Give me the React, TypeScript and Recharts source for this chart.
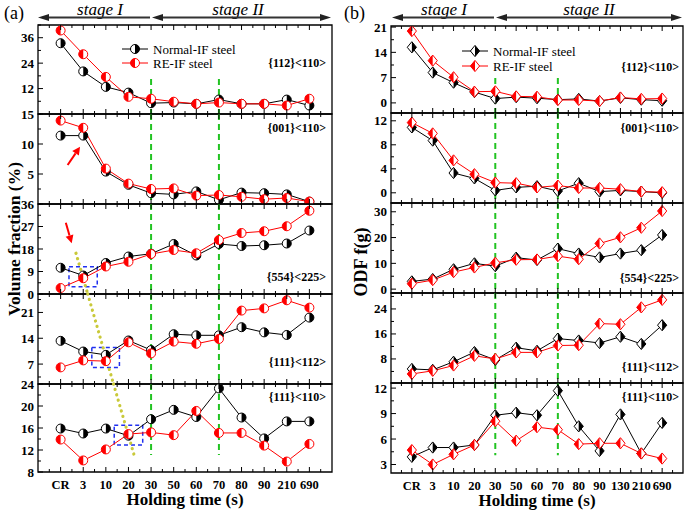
import React from "react";
import {
  LineChart,
  Line,
  XAxis,
  YAxis,
  ReferenceLine,
  ReferenceArea,
  Label,
} from "recharts";

const FONT = "'Liberation Serif', 'Times New Roman', serif";

// holding time categories
const catsA = ["CR", "3", "10", "20", "30", "50", "60", "70", "80", "90", "210", "690"];
const catsB = ["CR", "3", "10", "20", "30", "50", "60", "70", "80", "90", "130", "210", "690"];

// (a) volume fraction (%)
const a112N = [33.4, 20.1, 12.8, 10.1, 5.1, 5.4, 4.8, 6.8, 4.8, 4.8, 6.8, 4.0];
const a112R = [39.4, 28.2, 17.5, 8.1, 7.2, 5.8, 4.8, 5.4, 4.8, 4.8, 4.0, 7.2];
const a001N = [11.4, 11.4, 5.4, 3.2, 1.8, 1.6, 2.1, 0.7, 1.9, 1.8, 1.6, 0.4];
const a001R = [13.9, 12.7, 5.9, 3.4, 2.5, 2.6, 1.4, 1.5, 1.2, 0.8, 1.0, 0.4];
const a554N = [10.5, 7.4, 12.4, 15.0, 16.1, 20.0, 15.4, 20.0, 19.2, 19.5, 20.2, 25.4];
const a554R = [2.4, 6.3, 11.0, 12.9, 16.0, 17.6, 16.3, 21.6, 24.4, 25.1, 27.1, 33.3];
const a111_112N = [13.3, 10.4, 9.5, 13.4, 10.8, 15.1, 14.8, 14.8, 17.0, 15.6, 14.9, 19.6];
const a111_112R = [6.1, 8.0, 7.8, 12.9, 9.9, 13.1, 12.5, 13.8, 21.5, 22.1, 24.3, 22.3];
const a111_110N = [15.9, 15.0, 15.9, 14.6, 17.6, 19.3, 18.0, 23.2, 17.9, 14.1, 17.2, 17.2];
const a111_110R = [13.9, 10.1, 12.1, 14.9, 15.2, 14.7, 19.1, 15.1, 15.1, 12.8, 9.9, 13.1];

// (b) ODF f(g)
const b112N = [15.4, 8.4, 5.6, 3.0, 1.2, 1.6, 1.3, 0.9, 1.1, 0.5, 1.4, 0.9, 0.6];
const b112R = [19.9, 11.7, 7.1, 3.1, 3.2, 1.8, 1.7, 0.8, 0.8, 0.5, 1.5, 1.1, 1.2];
const b001N = [10.9, 8.7, 3.3, 2.4, 0.4, 0.9, 1.1, 0.3, 1.6, 0.2, 0.4, 0.2, 0.0];
const b001R = [11.7, 9.9, 5.4, 3.1, 1.7, 1.6, 0.9, 1.2, 0.8, 0.8, 0.6, 0.2, 0.1];
const b554N = [3.0, 3.9, 7.7, 10.0, 8.9, 12.2, 11.3, 15.7, 13.8, 12.3, 13.8, 15.1, 21.0];
const b554R = [2.1, 3.5, 6.6, 8.4, 10.2, 11.4, 11.5, 12.8, 11.6, 17.7, 20.1, 23.8, 30.3];
const b111_112N = [4.8, 4.5, 7.1, 10.2, 7.7, 11.6, 10.6, 14.5, 13.9, 13.1, 15.1, 12.8, 18.8];
const b111_112R = [3.2, 4.2, 5.9, 9.0, 8.0, 10.1, 10.1, 12.3, 12.4, 19.3, 19.1, 24.5, 26.9];
const b111_110N = [3.9, 5.0, 5.0, 5.3, 8.8, 9.1, 8.8, 11.7, 7.5, 4.6, 8.9, 4.3, 7.9];
const b111_110R = [4.7, 3.0, 4.2, 5.3, 8.1, 5.8, 7.4, 7.1, 5.4, 5.5, 5.5, 4.3, 3.7];

const GREEN = "#22c322";
const YELLOW = "#c9c93a";
const BLUE = "#2030f0";

type Sub = {
  name: string;
  n: number[];
  r: number[];
  domain: [number, number];
  labels: number[];
  step: number;
  top: number;
  bottom: number;
  nameY: number;
};

type Panel = {
  left: number;
  width: number;
  yw: number;
  right: number;
  cats: string[];
  shape: "circle" | "diamond";
  nameX: number;
};

const PANEL_A: Panel = { left: 0, width: 340, yw: 38, right: 8, cats: catsA, shape: "circle", nameX: 326 };
const PANEL_B: Panel = { left: 345, width: 340, yw: 46, right: 2, cats: catsB, shape: "diamond", nameX: 679 };

const subsA: Sub[] = [
  { name: "{112}<110>", n: a112N, r: a112R, domain: [0, 42], labels: [12, 24, 36], step: 6, top: 25, bottom: 114, nameY: 67 },
  { name: "{001}<110>", n: a001N, r: a001R, domain: [0, 15], labels: [5, 10, 15], step: 2.5, top: 114, bottom: 204, nameY: 132 },
  { name: "{554}<225>", n: a554N, r: a554R, domain: [0, 36], labels: [0, 9, 18, 27, 36], step: 4.5, top: 204, bottom: 294, nameY: 281 },
  { name: "{111}<112>", n: a111_112N, r: a111_112R, domain: [1.6, 26], labels: [7, 14, 21], step: 3.5, top: 294, bottom: 384, nameY: 366 },
  { name: "{111}<110>", n: a111_110N, r: a111_110R, domain: [8, 24], labels: [8, 12, 16, 20, 24], step: 2, top: 384, bottom: 472, nameY: 401 },
];

const subsB: Sub[] = [
  { name: "{112}<110>", n: b112N, r: b112R, domain: [-2.8, 21.3], labels: [0, 7, 14, 21], step: 3.5, top: 26, bottom: 113, nameY: 71 },
  { name: "{001}<110>", n: b001N, r: b001R, domain: [-1.7, 13.3], labels: [0, 4, 8, 12], step: 2, top: 113, bottom: 203, nameY: 132 },
  { name: "{554}<225>", n: b554N, r: b554R, domain: [-1.5, 33.4], labels: [0, 10, 20, 30], step: 5, top: 203, bottom: 293, nameY: 282 },
  { name: "{111}<112>", n: b111_112N, r: b111_112R, domain: [0.3, 29.1], labels: [8, 16, 24], step: 4, top: 293, bottom: 383, nameY: 371 },
  { name: "{111}<110>", n: b111_110N, r: b111_110R, domain: [2, 12.6], labels: [3, 6, 9, 12], step: 1.5, top: 383, bottom: 473, nameY: 401 },
];

function Marker({ cx, cy, color, side, shape }: any) {
  if (cx == null || cy == null) return null;
  if (shape === "circle") {
    const r = 4.5;
    const sweep = side === "left" ? 0 : 1;
    return (
      <g>
        <circle cx={cx} cy={cy} r={r} fill="#fff" stroke={color} strokeWidth={1} />
        <path d={`M${cx},${cy - r} A${r},${r} 0 0 ${sweep} ${cx},${cy + r} Z`} fill={color} />
      </g>
    );
  }
  const rx = 4.6;
  const ry = 5.6;
  const sx = side === "left" ? -rx : rx;
  return (
    <g>
      <polygon
        points={`${cx},${cy - ry} ${cx + rx},${cy} ${cx},${cy + ry} ${cx - rx},${cy}`}
        fill="#fff"
        stroke={color}
        strokeWidth={1}
      />
      <polygon points={`${cx},${cy - ry} ${cx + sx},${cy} ${cx},${cy + ry}`} fill={color} />
    </g>
  );
}

function XTick(props: any) {
  const { x, y, payload, cats, dir, show } = props;
  const v = payload.value;
  const major = Math.abs(v - Math.round(v)) < 1e-6;
  const len = major ? 5 : 3;
  return (
    <g>
      <path d={`M${x},${y}V${y + dir * len}`} stroke="#000" strokeWidth={1} fill="none" />
      {show && major && (
        <text x={x} y={y + 16.5} textAnchor="middle" fontFamily={FONT} fontWeight="bold" fontSize={12.5} fill="#000">
          {cats[Math.round(v)]}
        </text>
      )}
    </g>
  );
}

function YTick(props: any) {
  const { x, y, payload, labels } = props;
  const v = payload.value;
  const major = labels.some((l: number) => Math.abs(l - v) < 1e-6);
  return (
    <g>
      <path d={`M${x},${y}H${x + (major ? 5 : 3)}`} stroke="#000" strokeWidth={1} fill="none" />
      {major && (
        <text x={x - 4} y={y + 4.5} textAnchor="end" fontFamily={FONT} fontWeight="bold" fontSize={13} fill="#000">
          {Math.round(v)}
        </text>
      )}
    </g>
  );
}

function ArrowShape(p: any) {
  const { x1, y1, x2, y2 } = p;
  const ang = Math.atan2(y2 - y1, x2 - x1);
  const L = 8;
  const W = 4;
  const bx = x2 - L * Math.cos(ang);
  const by = y2 - L * Math.sin(ang);
  const px = -Math.sin(ang) * W;
  const py = Math.cos(ang) * W;
  return (
    <g>
      <line x1={x1} y1={y1} x2={bx} y2={by} stroke="#f00" strokeWidth={2} />
      <polygon points={`${x2},${y2} ${bx + px},${by + py} ${bx - px},${by - py}`} fill="#f00" />
    </g>
  );
}

const greenProps = { stroke: GREEN, strokeWidth: 2, strokeDasharray: "6 4", ifOverflow: "visible" as const };
const dotProps = { stroke: YELLOW, strokeWidth: 3.2, strokeDasharray: "0.1 5.5", strokeLinecap: "round" as const, ifOverflow: "visible" as const };
const boxProps = { fill: "none", stroke: BLUE, strokeWidth: 1.5, strokeDasharray: "4 3", ifOverflow: "visible" as const };

function extrasA(k: number) {
  const d = subsA[k].domain;
  const out: any[] = [];
  const gTop = k === 0 ? 16.5 : d[1];
  const gBot = k === 4 ? 11.1 : d[0];
  [4, 7].forEach((x) =>
    out.push(<ReferenceLine key={"g" + x} segment={[{ x, y: gTop }, { x, y: gBot }]} {...greenProps} />)
  );
  if (k === 1) {
    out.push(<ReferenceLine key="ar" segment={[{ x: 0.31, y: 6.5 }, { x: 0.86, y: 9.55 }]} ifOverflow="visible" shape={ArrowShape} />);
  }
  if (k === 2) {
    out.push(<ReferenceLine key="ar" segment={[{ x: 0.23, y: 28.5 }, { x: 0.49, y: 20.3 }]} ifOverflow="visible" shape={ArrowShape} />);
    out.push(<ReferenceArea key="bx" x1={0.37} x2={1.62} y1={2.9} y2={10.9} {...boxProps} />);
    out.push(<ReferenceLine key="yl" segment={[{ x: 0.68, y: 16.3 }, { x: 1.2, y: 0 }]} {...dotProps} />);
  }
  if (k === 3) {
    out.push(<ReferenceArea key="bx" x1={1.38} x2={2.6} y1={6.1} y2={11.5} {...boxProps} />);
    out.push(<ReferenceLine key="yl" segment={[{ x: 1.2, y: 26 }, { x: 2.34, y: 1.6 }]} {...dotProps} />);
  }
  if (k === 4) {
    out.push(<ReferenceArea key="bx" x1={2.37} x2={3.63} y1={12.9} y2={16.5} {...boxProps} />);
    out.push(<ReferenceLine key="yl" segment={[{ x: 2.34, y: 24 }, { x: 3.29, y: 10.5 }]} {...dotProps} />);
  }
  return out;
}

function extrasB(k: number) {
  const d = subsB[k].domain;
  const gTop = k === 0 ? 6.9 : d[1];
  const gBot = k === 4 ? 4.1 : d[0];
  return [4, 7].map((x) => (
    <ReferenceLine key={"g" + x} segment={[{ x, y: gTop }, { x, y: gBot }]} {...greenProps} />
  ));
}

function SubPlot({ panel, sub, last, extras }: { panel: Panel; sub: Sub; last: boolean; extras: any[] }) {
  const rows = panel.cats.map((c, i) => ({ i, cat: c, n: sub.n[i], r: sub.r[i] }));
  const pad = 10;
  // axes need a non-zero size or recharts skips drawing them
  const xh = last ? 34 : 1;
  const th = 1;
  const mb = last ? 4 : pad - 1;
  const mt = pad - th;
  const height = sub.bottom - sub.top + mt + th + xh + mb;
  const xTicks: number[] = [];
  for (let k = -1; k <= panel.cats.length * 2 - 1; k++) xTicks.push(k / 2);
  const yTicks: number[] = [];
  const k0 = Math.ceil(sub.domain[0] / sub.step - 1e-9);
  for (let k = k0; k * sub.step <= sub.domain[1] + 1e-9; k++) yTicks.push(+(k * sub.step).toFixed(4));
  const xDomain: [number, number] = [-1, panel.cats.length];
  return (
    <div style={{ position: "absolute", left: panel.left, top: sub.top - pad }}>
      <LineChart
        width={panel.width}
        height={height}
        data={rows}
        margin={{ top: mt, right: panel.right, bottom: mb, left: 0 }}
      >
        <XAxis
          dataKey="i"
          type="number"
          domain={xDomain}
          ticks={xTicks}
          interval={0}
          height={xh}
          tickSize={0}
          tickMargin={0}
          tickLine={false}
          axisLine={false}
          allowDataOverflow
          tick={(p: any) => <XTick {...p} cats={panel.cats} dir={-1} show={last} />}
        >
          {last && (
            <Label
              value="Holding time (s)"
              position="insideBottom"
              offset={1}
              fontFamily={FONT}
              fontWeight="bold"
              fontSize={17}
              fill="#000"
            />
          )}
        </XAxis>
        <XAxis
          xAxisId="top"
          orientation="top"
          dataKey="i"
          type="number"
          domain={xDomain}
          ticks={xTicks}
          interval={0}
          height={th}
          tickSize={0}
          tickMargin={0}
          tickLine={false}
          axisLine={false}
          allowDataOverflow
          tick={(p: any) => <XTick {...p} cats={panel.cats} dir={1} show={false} />}
        />
        <YAxis
          type="number"
          domain={sub.domain}
          ticks={yTicks}
          interval={0}
          width={panel.yw}
          tickSize={0}
          tickMargin={0}
          tickLine={false}
          axisLine={false}
          allowDataOverflow
          tick={(p: any) => <YTick {...p} labels={sub.labels} />}
        />
        {/* plot frame */}
        <ReferenceArea
          x1={xDomain[0]}
          x2={xDomain[1]}
          y1={sub.domain[0]}
          y2={sub.domain[1]}
          fill="none"
          fillOpacity={0}
          stroke="#000"
          strokeWidth={1.3}
          ifOverflow="visible"
        />
        {extras}
        <Line
          dataKey="n"
          stroke="#000"
          strokeWidth={1}
          isAnimationActive={false}
          dot={(p: any) => <Marker key={"n" + p.index} cx={p.cx} cy={p.cy} color="#000" side="right" shape={panel.shape} />}
        />
        <Line
          dataKey="r"
          stroke="#ff0000"
          strokeWidth={1}
          isAnimationActive={false}
          dot={(p: any) => <Marker key={"r" + p.index} cx={p.cx} cy={p.cy} color="#ff0000" side="left" shape={panel.shape} />}
        />
      </LineChart>
    </div>
  );
}

function StageArrow({ x1, x2, y, left, right }: { x1: number; x2: number; y: number; left: boolean; right: boolean }) {
  return (
    <g>
      <line x1={left ? x1 + 8 : x1} x2={right ? x2 - 8 : x2} y1={y} y2={y} stroke="#333" strokeWidth={2} />
      {left && <polygon points={`${x1},${y} ${x1 + 11},${y - 3.5} ${x1 + 11},${y + 3.5}`} fill="#222" />}
      {right && <polygon points={`${x2},${y} ${x2 - 11},${y - 3.5} ${x2 - 11},${y + 3.5}`} fill="#222" />}
    </g>
  );
}

function LegendRow({ x, y, color, side, shape, text }: any) {
  return (
    <g>
      <line x1={x} x2={x + 26} y1={y} y2={y} stroke={color} strokeWidth={1} />
      <Marker cx={x + 13} cy={y} color={color} side={side} shape={shape} />
      <text x={x + 31} y={y + 4.5} fontFamily={FONT} fontSize={13} fill="#000">
        {text}
      </text>
    </g>
  );
}

function Overlay() {
  const nameStyle = { fontFamily: FONT, fontWeight: "bold" as const, fontSize: 12, fill: "#000" };
  const stage = { fontFamily: FONT, fontStyle: "italic" as const, fontSize: 17, fill: "#000", textAnchor: "middle" as const };
  return (
    <svg width={685} height={511} style={{ position: "absolute", left: 0, top: 0, pointerEvents: "none" }}>
      <text x={4} y={19} fontFamily={FONT} fontSize={18} fill="#000">(a)</text>
      <text x={344} y={19} fontFamily={FONT} fontSize={18} fill="#000">(b)</text>
      <text x={100} y={14.5} {...stage}>stage I</text>
      <text x={238} y={14.5} {...stage}>stage II</text>
      <text x={444} y={14.5} {...stage}>stage I</text>
      <text x={589} y={14.5} {...stage}>stage II</text>
      <StageArrow x1={38} x2={150} y={17.5} left right={false} />
      <StageArrow x1={152} x2={331} y={17.5} left right />
      <StageArrow x1={392} x2={494} y={17.5} left right={false} />
      <StageArrow x1={496} x2={682} y={17.5} left right />
      <text
        transform="translate(20,239) rotate(-90)"
        textAnchor="middle"
        fontFamily={FONT}
        fontWeight="bold"
        fontSize={17.5}
        fill="#000"
      >
        Volume fraction (%)
      </text>
      <text
        transform="translate(367,262) rotate(-90)"
        textAnchor="middle"
        fontFamily={FONT}
        fontWeight="bold"
        fontSize={18}
        fill="#000"
      >
        ODF f(g)
      </text>
      {subsA.map((s, k) => (
        <text key={"na" + k} x={PANEL_A.nameX} y={s.nameY} textAnchor="end" {...nameStyle}>
          {s.name}
        </text>
      ))}
      {subsB.map((s, k) => (
        <text key={"nb" + k} x={PANEL_B.nameX} y={s.nameY} textAnchor="end" {...nameStyle}>
          {s.name}
        </text>
      ))}
      <LegendRow x={122} y={49} color="#000" side="right" shape="circle" text="Normal-IF steel" />
      <LegendRow x={122} y={63} color="#ff0000" side="left" shape="circle" text="RE-IF steel" />
      <LegendRow x={462} y={51} color="#000" side="right" shape="diamond" text="Normal-IF steel" />
      <LegendRow x={462} y={66} color="#ff0000" side="left" shape="diamond" text="RE-IF steel" />
    </svg>
  );
}

export default function App() {
  return (
    <div
      style={{
        position: "fixed",
        left: 0,
        top: 0,
        width: 685,
        height: 511,
        background: "#fff",
        overflow: "hidden",
      }}
    >
      {subsA.map((s, k) => (
        <SubPlot key={"a" + k} panel={PANEL_A} sub={s} last={k === 4} extras={extrasA(k)} />
      ))}
      {subsB.map((s, k) => (
        <SubPlot key={"b" + k} panel={PANEL_B} sub={s} last={k === 4} extras={extrasB(k)} />
      ))}
      <Overlay />
    </div>
  );
}
